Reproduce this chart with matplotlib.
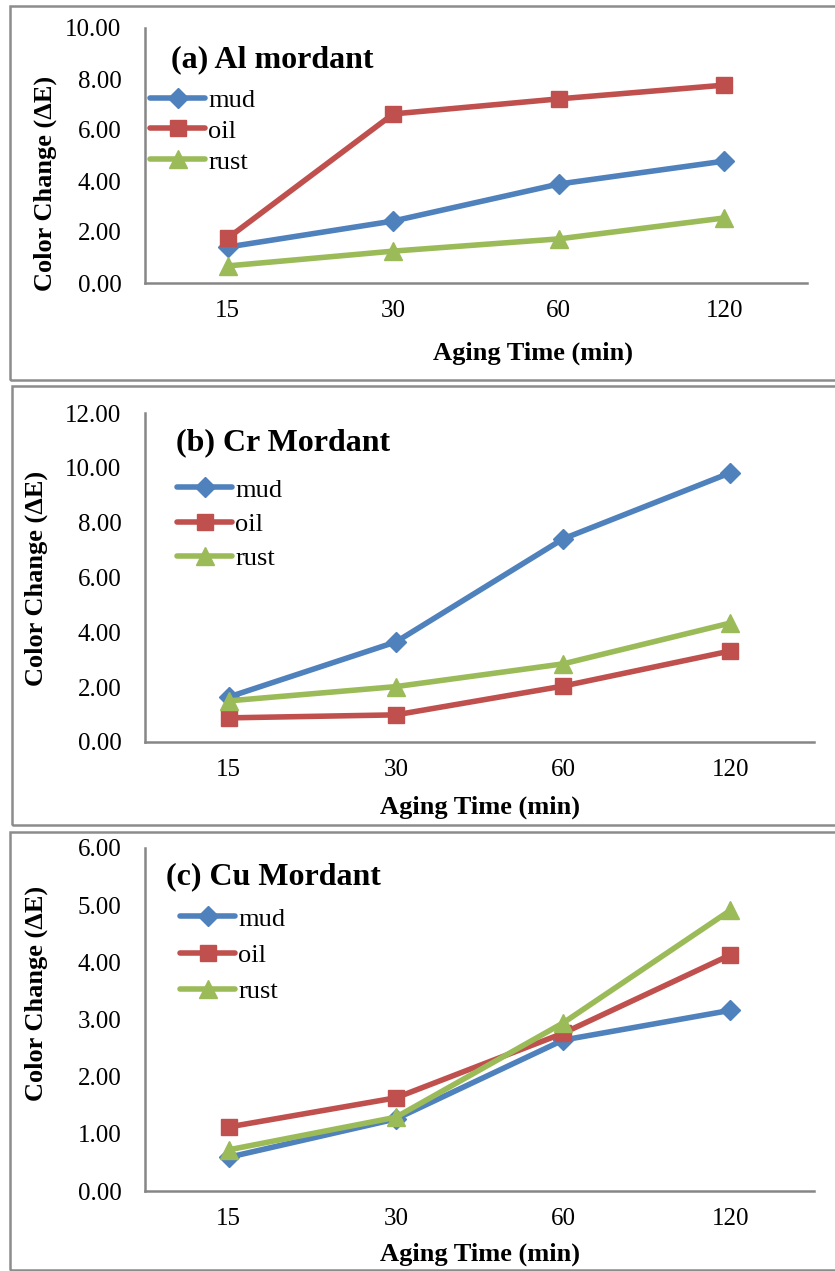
import numpy as np
import matplotlib.pyplot as plt
import matplotlib as mpl
from matplotlib.patches import Rectangle

mpl.rc("font", family=["Liberation Serif", "DejaVu Serif"])

# data
times = ["15", "30", "60", "120"]
series = ["mud", "oil", "rust"]

al_mud = [1.41, 2.43, 3.88, 4.78]
al_oil = [1.76, 6.63, 7.22, 7.76]
al_rust = [0.67, 1.25, 1.73, 2.55]

cr_mud = [1.64, 3.65, 7.41, 9.82]
cr_oil = [0.88, 0.99, 2.04, 3.32]
cr_rust = [1.50, 2.02, 2.85, 4.34]

cu_mud = [0.59, 1.26, 2.64, 3.16]
cu_oil = [1.12, 1.63, 2.76, 4.13]
cu_rust = [0.72, 1.29, 2.94, 4.91]

titles = ["(a) Al mordant", "(b) Cr Mordant", "(c) Cu Mordant"]
y_max = [10, 12, 6]
y_step = [2, 2, 1]

colors = ["#4F81BD", "#C0504D", "#9BBB59"]
markers = ["D", "s", "^"]
msizes = [10, 11, 13]

W, H = 835, 1271
fig = plt.figure(figsize=(W / 100, H / 100), dpi=100)

def fx(px):
    return px / W

def fy(py):
    return 1 - py / H

# panel layout in pixels: (left, right, top, bottom)
axes_px = [(145, 807, 28, 283), (145, 814, 413, 742), (145, 814, 848, 1191)]
border_px = [(10, 6, 380), (12, 386, 825), (10, 832, 1270)]
title_px = [(171, 60), (176, 443), (166, 877)]
legend_px = [(150, 131, 0.28), (177, 524, 0.4), (180, 955, 0.48)]
xlabel_px = [(533, 353), (480, 807), (480, 1254)]
ylabel_px = [(45, 183), (36, 578), (36, 993)]

data = [
    [al_mud, al_oil, al_rust],
    [cr_mud, cr_oil, cr_rust],
    [cu_mud, cu_oil, cu_rust],
]

x = np.arange(len(times))
for i in range(3):
    # panel frame
    bl, bt, bb = border_px[i]
    fig.patches.append(Rectangle((fx(bl), fy(bb)), 1.1, fy(bt) - fy(bb),
                                 transform=fig.transFigure, fill=False,
                                 edgecolor="#8C8C8C", lw=1.8))

    l, r, t, b = axes_px[i]
    ax = fig.add_axes([fx(l), fy(b), fx(r) - fx(l), fy(t) - fy(b)])
    for j in range(3):
        ax.plot(x, data[i][j], color=colors[j], lw=4, marker=markers[j],
                markersize=msizes[j], label=series[j], solid_capstyle="round")
    ax.set_xlim(-0.5, 3.5)
    ax.set_ylim(0, y_max[i])
    ax.set_yticks(np.arange(0, y_max[i] + 0.01, y_step[i]))
    ax.set_yticklabels(["%.2f" % v for v in np.arange(0, y_max[i] + 0.01, y_step[i])])
    ax.set_xticks(x)
    ax.set_xticklabels(times)
    ax.tick_params(axis="both", length=0, labelsize=18)
    ax.tick_params(axis="x", pad=12)
    ax.tick_params(axis="y", pad=17)
    for s in ["top", "right"]:
        ax.spines[s].set_visible(False)
    for s in ["left", "bottom"]:
        ax.spines[s].set_color("#868686")
        ax.spines[s].set_linewidth(1.8)

    lx, ly, sp = legend_px[i]
    ax.legend(loc="center left", bbox_to_anchor=(fx(lx), fy(ly)),
              bbox_transform=fig.transFigure, frameon=False, fontsize=19,
              handlelength=2.1, handletextpad=0.1, labelspacing=sp,
              borderpad=0, borderaxespad=0)

    tx, ty = title_px[i]
    fig.text(fx(tx), fy(ty), titles[i], fontsize=23, fontweight="bold",
             ha="left", va="center")
    xx, xy = xlabel_px[i]
    fig.text(fx(xx), fy(xy), "Aging Time (min)", fontsize=19,
             fontweight="bold", ha="center", va="center")
    yx, yy = ylabel_px[i]
    fig.text(fx(yx), fy(yy), "Color Change (ΔE)", fontsize=19,
             fontweight="bold", ha="center", va="center", rotation=90)

plt.savefig("out.png", dpi=100)
